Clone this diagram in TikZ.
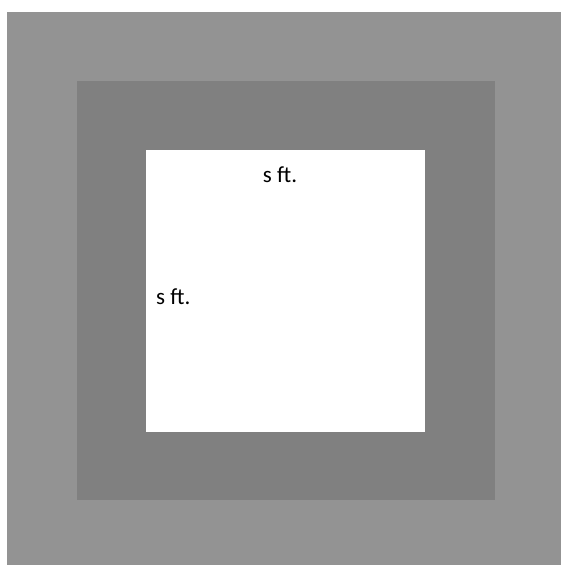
\documentclass[tikz,border=0pt]{standalone}
\usepackage{fontspec}
\setmainfont{Carlito}
\definecolor{outergray}{HTML}{939393}
\definecolor{midgray}{HTML}{808080}
\begin{document}
\begin{tikzpicture}[x=1pt,y=1pt,
  lbl/.style={inner sep=0pt,font=\fontsize{23}{26}\selectfont}]
\useasboundingbox (0,0) rectangle (561,565);
\fill[white] (0,0) rectangle (561,565);
\fill[outergray] (7,0) rectangle (561,553);
\fill[midgray] (76.5,64.5) rectangle (495,484);
\fill[white] (146,133) rectangle (425,415);
\node[lbl,anchor=base] (top) at (280,382.3) {s ft.};
\node[lbl,anchor=base west] (left) at (156,260) {s ft.};
\end{tikzpicture}
\end{document}
